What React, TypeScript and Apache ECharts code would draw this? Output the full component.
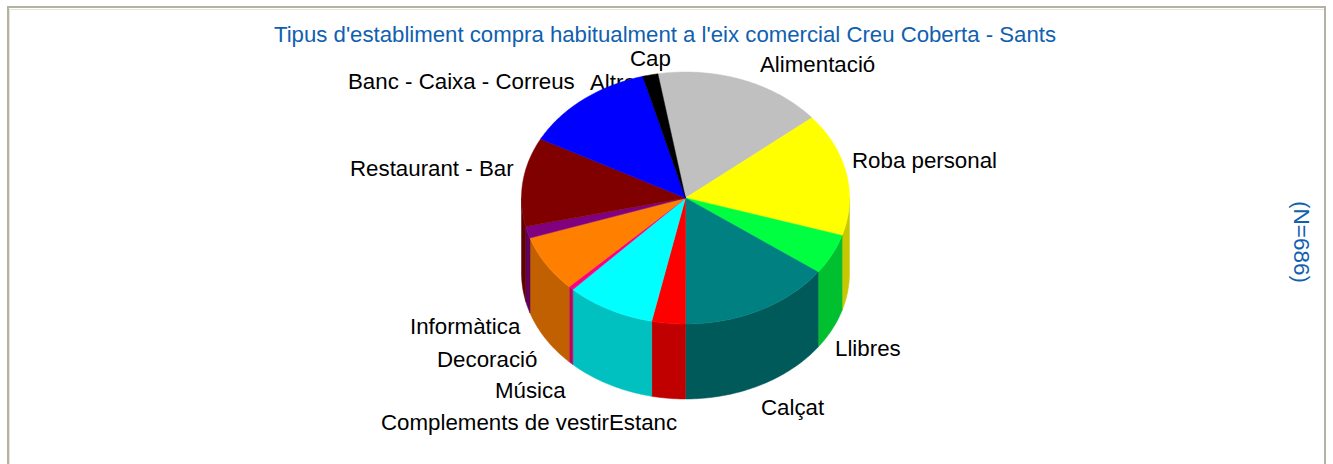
import React, { useEffect, useRef } from "react";
import * as echarts from "echarts";

const titleText = "Tipus d'establiment compra habitualment a l'eix comercial Creu Coberta - Sants";
const sampleText = "(N=686)";
const categories = ["Alimentació", "Roba personal", "Llibres", "Calçat", "Estanc", "Complements de vestir", "Música", "Decoració", "Informàtica", "Restaurant - Bar", "Banc - Caixa - Correus", "Altres", "Cap"];
const values = [16.7, 15.8, 5.2, 15.0, 3.3, 8.75, 0.5, 7.3, 1.5, 11.4, 13.05, 0, 1.5];
const topColors = ["#c0c0c0", "#ffff00", "#00ff40", "#008080", "#ff0000", "#00ffff", "#ff0080", "#ff8000", "#800080", "#800000", "#0000ff", "#0000ff", "#000000"];
const sideColors = ["#909090", "#c8c800", "#00c030", "#005a5a", "#c00000", "#00c0c0", "#c00060", "#c06000", "#600060", "#600000", "#0000c0", "#0000c0", "#000000"];
const labelPlaces: [number, number][] = [[760, 64], [852, 160], [835, 348], [761, 407], [609, 422], [381, 422], [495, 390], [437, 359], [410, 326], [350, 168], [348, 81], [590, 82], [630, 58]];

const CX = 685.5, CY = 198, RX = 164, RY = 126, DEPTH = 75, START = -9.7;
const total = values.reduce((a, b) => a + b, 0);
const startDeg = (i: number) => START + (values.slice(0, i).reduce((a, b) => a + b, 0) / total) * 360;
const pt = (deg: number, dy = 0): [number, number] => {
  const r = (deg * Math.PI) / 180;
  return [CX + RX * Math.sin(r), CY - RY * Math.cos(r) + dy];
};
const arc = (a: number, b: number, dy = 0) => {
  const n = Math.max(2, Math.ceil(Math.abs(b - a)));
  return Array.from({ length: n + 1 }, (_, k) => pt(a + ((b - a) * k) / n, dy));
};

export default function App() {
  const ref = useRef<HTMLDivElement>(null);
  useEffect(() => {
    const chart = echarts.init(ref.current!, undefined, { renderer: "svg" });
    const line = (x1: number, y1: number, x2: number, y2: number, stroke: string, lineWidth: number) => ({
      type: "line", z: 1, shape: { x1, y1, x2, y2 }, style: { stroke, lineWidth },
    });
    chart.setOption({
      animation: false,
      backgroundColor: "#ffffff",
      graphic: [
        line(9.5, 464, 9.5, 9.5, "#e6e4da", 1),
        line(9, 9.5, 1324, 9.5, "#e6e4da", 1),
        line(8, 464, 8, 7, "#b4b2a2", 2),
        line(7, 7, 1326, 7, "#b4b2a2", 2),
        line(1325, 7, 1325, 464, "#b4b2a2", 2),
        { type: "text", z: 1, x: 665, y: 34, style: { text: titleText, fill: "#1060b0", font: "22.2px 'Liberation Sans'", align: "center", verticalAlign: "middle" } },
        { type: "text", z: 1, x: 1301, y: 242, rotation: -Math.PI / 2, style: { text: sampleText, fill: "#1060b0", font: "22.5px 'Liberation Sans'", align: "center", verticalAlign: "middle" } },
        ...categories.map((name, i) => ({
          type: "text", z: 1, x: labelPlaces[i][0], y: labelPlaces[i][1],
          style: { text: name, fill: "#000000", font: "22.3px 'Liberation Sans'", align: "left", verticalAlign: "middle" },
        })),
      ],
      series: [{
        type: "custom",
        coordinateSystem: "none",
        z: 5,
        data: values.map((v, i) => [i, v]),
        renderItem: (_: unknown, api: any) => {
          const i = api.value(0) as number;
          const a = startDeg(i);
          const b = a + (values[i] / total) * 360;
          const children: any[] = [];
          const lo = Math.max(a, 90), hi = Math.min(b, 270);
          if (hi > lo) {
            const top = arc(lo, hi);
            const bottom = arc(lo, hi, DEPTH).reverse();
            children.push({ type: "polygon", shape: { points: [...top, ...bottom] }, style: { fill: sideColors[i], stroke: sideColors[i], lineWidth: 0.5 } });
          }
          if (b > a) {
            children.push({ type: "polygon", z2: 10, shape: { points: [[CX, CY], ...arc(a, b)] }, style: { fill: topColors[i], stroke: topColors[i], lineWidth: 0.5 } });
          }
          return { type: "group", children };
        },
      }],
    });
    return () => chart.dispose();
  }, []);
  return <div ref={ref} style={{ position: "absolute", left: 0, top: 0, width: 1333, height: 464 }} />;
}
